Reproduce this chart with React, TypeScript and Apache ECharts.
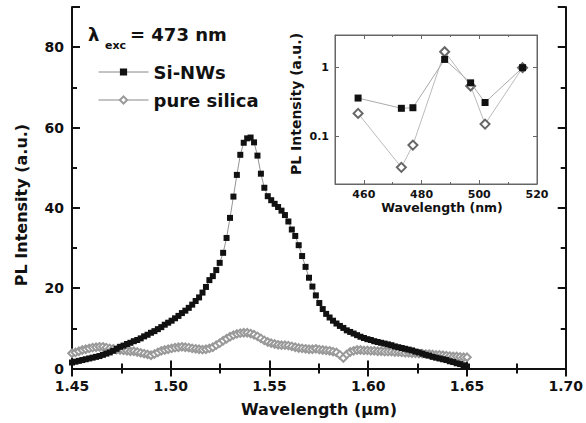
import React, { useEffect, useRef } from "react";
import * as echarts from "echarts";

// Main spectra: sampled from 1.45 µm to 1.65 µm on a regular grid
const WL_START = 1.45;
const WL_END = 1.65;
const SI_NWS = [
  1.5, 1.7, 1.9, 2.1, 2.3, 2.5, 2.7, 2.9, 3.1, 3.4,
  3.7, 4.0, 4.4, 4.9, 5.4, 5.7, 6.1, 6.4, 6.8, 7.1,
  7.5, 8.0, 8.4, 8.9, 9.3, 9.8, 10.3, 10.9, 11.4, 11.9,
  12.5, 13.1, 13.8, 14.4, 15.1, 15.9, 16.8, 17.7, 18.9, 20.3,
  22.0, 23.0, 24.5, 26.3, 28.8, 32.5, 37.5, 42.8, 48.2, 53.2,
  56.2, 57.3, 57.5, 56.3, 53.0, 48.5, 45.0, 42.9, 41.9, 41.0,
  40.2, 39.3, 38.2, 36.6, 34.6, 33.0, 30.7, 28.0, 25.3, 22.6,
  20.4, 18.2, 16.3, 14.8, 13.6, 12.7, 11.9, 11.2, 10.6, 10.1,
  9.5, 9.1, 8.7, 8.3, 7.9, 7.6, 7.3, 7.1, 6.8, 6.6,
  6.4, 6.2, 6.0, 5.8, 5.5, 5.3, 5.1, 4.9, 4.7, 4.5,
  4.2, 4.0, 3.7, 3.4, 3.2, 2.9, 2.7, 2.5, 2.3, 2.1,
  1.8, 1.6, 1.3, 1.1, 0.8, 0.5,
];
const PURE_SILICA = [
  3.8, 4.0, 4.3, 4.6, 4.8, 5.0, 5.2, 5.3, 5.4, 5.4,
  5.2, 5.0, 4.9, 4.7, 4.6, 4.5, 4.4, 4.3, 4.3, 4.1,
  3.9, 3.7, 3.5, 3.3, 3.6, 4.0, 4.4, 4.6, 4.8, 5.0,
  5.2, 5.3, 5.4, 5.3, 5.2, 5.0, 4.9, 4.8, 4.7, 4.8,
  5.0, 5.3, 5.8, 6.3, 6.9, 7.4, 7.9, 8.3, 8.6, 8.8,
  8.9, 8.9, 8.7, 8.4, 8.0, 7.5, 7.0, 6.6, 6.3, 6.1,
  5.9, 5.8, 5.8, 5.7, 5.5, 5.3, 5.1, 5.0, 4.9, 4.8,
  4.8, 4.9, 4.7, 4.6, 4.5, 4.4, 4.2, 4.0, 3.4, 2.6,
  3.5, 4.1, 4.4, 4.6, 4.6, 4.5, 4.5, 4.4, 4.4, 4.3,
  4.3, 4.2, 4.2, 4.2, 4.1, 4.1, 4.0, 3.9, 3.9, 3.8,
  3.8, 3.7, 3.7, 3.6, 3.6, 3.5, 3.4, 3.4, 3.3, 3.2,
  3.1, 3.0, 3.0, 2.9, 2.8, 2.8,
];

// Inset: excitation wavelength dependence
const INSET_WL = [458, 473, 477, 488, 497, 502, 515];
const INSET_SI_NWS = [0.36, 0.255, 0.26, 1.32, 0.6, 0.31, 1.0];
const INSET_SILICA = [0.215, 0.035, 0.074, 1.71, 0.54, 0.15, 1.0];

const FONT = "DejaVu Sans";
const INK = "#111";

function toPairs(vals: number[]): number[][] {
  const step = (WL_END - WL_START) / (vals.length - 1);
  return vals.map((v, i) => [WL_START + i * step, v]);
}

export default function App() {
  const ref = useRef<HTMLDivElement>(null);
  useEffect(() => {
    if (!ref.current) return;
    const chart = echarts.init(ref.current, undefined, { renderer: "svg" });
    const mainTick = { show: true, inside: true, length: 8, lineStyle: { color: INK, width: 2 } };
    const mainMinor = { show: true, splitNumber: 2, length: 5, lineStyle: { color: INK, width: 2 } };
    const mainLine = { show: true, lineStyle: { color: INK, width: 2 } };
    const insetLine = { show: true, lineStyle: { color: "#666", width: 1 } };
    const insetTick = { show: true, inside: true, length: 4, lineStyle: { color: "#666", width: 1 } };
    const insetMinor = { show: true, splitNumber: 2, length: 2, lineStyle: { color: "#666", width: 1 } };
    const labelBase = { fontFamily: FONT, fontWeight: "bold" as const, color: INK };
    const logFmt = (v: number) => (Math.abs(v - 1) < 1e-6 ? "1" : Math.abs(v - 0.1) < 1e-7 ? "0.1" : "");

    chart.setOption({
      animation: false,
      backgroundColor: "#fff",
      grid: [
        { left: 72, top: 7, right: 20, bottom: 54.5 },
        { left: 335, top: 35, width: 202, height: 149, show: true, backgroundColor: "#fff", borderColor: "#666", borderWidth: 1, z: 5 },
      ],
      legend: {
        data: ["Si-NWs", "pure silica"],
        orient: "vertical",
        left: 93,
        top: 57,
        itemWidth: 50,
        itemHeight: 9,
        itemGap: 8,
        selectedMode: false,
        lineStyle: { width: 1, color: "#888" },
        textStyle: { ...labelBase, fontSize: 18, lineHeight: 20 },
      },
      xAxis: [
        {
          type: "value", gridIndex: 0, min: 1.45, max: 1.7, interval: 0.05,
          axisLine: mainLine, axisTick: mainTick, minorTick: mainMinor, splitLine: { show: false },
          axisLabel: { ...labelBase, fontSize: 14, margin: 10, formatter: (v: number) => v.toFixed(2) },
        },
        {
          type: "value", gridIndex: 0, position: "top", min: 1.45, max: 1.7, interval: 0.05,
          axisLine: mainLine, axisTick: mainTick, minorTick: mainMinor, splitLine: { show: false },
          axisLabel: { show: false },
        },
        {
          type: "value", gridIndex: 1, min: 450, max: 520, splitNumber: 3,
          axisLine: insetLine, axisTick: insetTick, minorTick: insetMinor, splitLine: { show: false },
          axisLabel: { ...labelBase, fontSize: 11, margin: 5, showMinLabel: false },
          z: 6,
        },
        {
          type: "value", gridIndex: 1, position: "top", min: 450, max: 520, splitNumber: 3,
          axisLine: insetLine, axisTick: insetTick, minorTick: insetMinor, splitLine: { show: false },
          axisLabel: { show: false },
          z: 6,
        },
      ],
      yAxis: [
        {
          type: "value", gridIndex: 0, min: 0, max: 90, interval: 20,
          axisLine: mainLine, axisTick: mainTick, minorTick: mainMinor, splitLine: { show: false },
          axisLabel: { ...labelBase, fontSize: 14, margin: 8, formatter: (v: number) => (v % 20 === 0 ? String(v) : "") },
        },
        {
          type: "value", gridIndex: 0, position: "right", min: 0, max: 90, interval: 20,
          axisLine: mainLine, axisTick: mainTick, minorTick: mainMinor, splitLine: { show: false },
          axisLabel: { show: false },
        },
        {
          type: "log", logBase: 10, gridIndex: 1, min: 0.02, max: 3,
          axisLine: insetLine, axisTick: insetTick, splitLine: { show: false },
          axisLabel: { ...labelBase, fontSize: 11, margin: 6, showMinLabel: false, showMaxLabel: false, formatter: logFmt },
          z: 6,
        },
        {
          type: "log", logBase: 10, gridIndex: 1, position: "right", min: 0.02, max: 3,
          axisLine: insetLine, axisTick: insetTick, splitLine: { show: false },
          axisLabel: { show: false },
          z: 6,
        },
      ],
      series: [
        {
          name: "Si-NWs", type: "line", xAxisIndex: 0, yAxisIndex: 0,
          data: toPairs(SI_NWS), symbol: "rect", symbolSize: 6,
          itemStyle: { color: INK },
          lineStyle: { color: "#777", width: 0.8 }, z: 4,
        },
        {
          name: "pure silica", type: "line", xAxisIndex: 0, yAxisIndex: 0,
          data: toPairs(PURE_SILICA), symbol: "emptyDiamond", symbolSize: 7.5,
          itemStyle: { color: "#999", borderColor: "#999", borderWidth: 0.9 },
          lineStyle: { color: "#bbb", width: 0.8 }, z: 3,
        },
        {
          name: "Si-NWs", type: "line", xAxisIndex: 2, yAxisIndex: 2,
          data: INSET_WL.map((w, i) => [w, INSET_SI_NWS[i]]), symbol: "rect", symbolSize: 7,
          itemStyle: { color: INK },
          lineStyle: { color: "#aaa", width: 1 }, z: 8,
        },
        {
          name: "pure silica", type: "line", xAxisIndex: 2, yAxisIndex: 2,
          data: INSET_WL.map((w, i) => [w, INSET_SILICA[i]]), symbol: "emptyDiamond", symbolSize: 9,
          itemStyle: { color: "#666", borderColor: "#666", borderWidth: 1.2 },
          lineStyle: { color: "#bbb", width: 1 }, z: 7,
        },
      ],
      graphic: [
        { type: "text", x: 88, y: 34, z: 10, style: { text: "λ", fontFamily: FONT, fontWeight: "bold", fontSize: 18, fill: INK, verticalAlign: "middle" } },
        { type: "text", x: 105, y: 45, z: 10, style: { text: "exc", fontFamily: FONT, fontWeight: "bold", fontSize: 11, fill: INK, verticalAlign: "middle" } },
        { type: "text", x: 130, y: 34, z: 10, style: { text: "= 473 nm", fontFamily: FONT, fontWeight: "bold", fontSize: 18, fill: INK, verticalAlign: "middle" } },
        { type: "text", x: 319, y: 409, z: 10, style: { text: "Wavelength (μm)", fontFamily: FONT, fontWeight: "bold", fontSize: 16, fill: INK, align: "center", verticalAlign: "middle" } },
        { type: "text", x: 21, y: 205, rotation: Math.PI / 2, z: 10, style: { text: "PL Intensity (a.u.)", fontFamily: FONT, fontWeight: "bold", fontSize: 16, fill: INK, align: "center", verticalAlign: "middle" } },
        { type: "text", x: 442, y: 207, z: 10, style: { text: "Wavelength (nm)", fontFamily: FONT, fontWeight: "bold", fontSize: 12.5, fill: INK, align: "center", verticalAlign: "middle" } },
        { type: "text", x: 296, y: 104, rotation: Math.PI / 2, z: 10, style: { text: "PL Intensity (a.u.)", fontFamily: FONT, fontWeight: "bold", fontSize: 14, fill: INK, align: "center", verticalAlign: "middle" } },
      ],
    });
    return () => chart.dispose();
  }, []);
  return <div ref={ref} style={{ position: "fixed", left: 0, top: 0, width: 586, height: 423 }} />;
}
